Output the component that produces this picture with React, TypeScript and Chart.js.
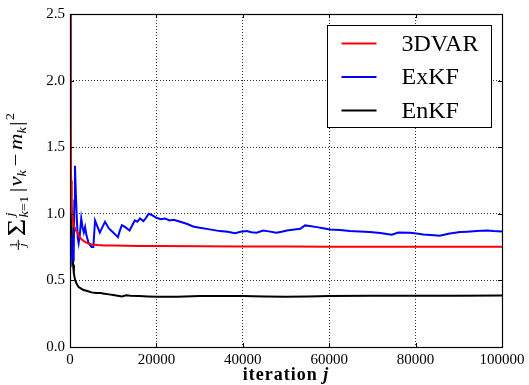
import React, { useEffect, useRef } from 'react';
import { Chart, registerables } from 'chart.js';

Chart.register(...registerables);

// ---------- data ----------
const seriesLabels = ['3DVAR', 'ExKF', 'EnKF'];
const seriesColors = ['#ff0000', '#0000ff', '#000000'];

const dvarX = [0, 100, 250, 400, 600, 900, 1300, 1700, 2100, 2600, 3200, 4000, 5000, 6500, 8000, 10000, 13000, 16000, 20000, 30000, 40000, 50000, 60000, 70000, 80000, 90000, 100000];
const dvarY = [2.6, 1.7, 1.25, 1.05, 0.96, 0.91, 0.88, 0.86, 0.83, 0.81, 0.795, 0.78, 0.77, 0.765, 0.762, 0.762, 0.76, 0.758, 0.758, 0.757, 0.755, 0.755, 0.753, 0.753, 0.752, 0.752, 0.752];

const exkfX = [0, 150, 350, 550, 750, 850, 1000, 1150, 1350, 1600, 1800, 2000, 2300, 2600, 2900, 3200, 3500, 3800, 4300, 5000, 5400, 5800, 6400, 6900, 7500, 8100, 9000, 10000, 11100, 11500, 12000, 12800, 13800, 14500, 15000, 15600, 16200, 17000, 17600, 18200, 19000, 20000, 21000, 22000, 23000, 24000, 25500, 27000, 28500, 30000, 32000, 34700, 36500, 38200, 39500, 40900, 42000, 43200, 44700, 46000, 47800, 49000, 50200, 52000, 53300, 54400, 55500, 57100, 58600, 60200, 62500, 64800, 67000, 69400, 71800, 73000, 74500, 76000, 78700, 80200, 81800, 83500, 85600, 87600, 90300, 92000, 94100, 96500, 98000, 100000];
const exkfY = [0.85, 0.6, 0.82, 0.78, 0.65, 0.66, 1.1, 1.36, 1.15, 0.95, 0.82, 0.78, 0.85, 0.965, 0.9, 0.86, 0.9, 0.84, 0.78, 0.75, 0.75, 0.95, 0.9, 0.86, 0.9, 0.94, 0.89, 0.86, 0.825, 0.87, 0.915, 0.9, 0.875, 0.92, 0.95, 0.94, 0.965, 0.945, 0.97, 1.0, 0.99, 0.97, 0.96, 0.965, 0.95, 0.955, 0.94, 0.925, 0.905, 0.895, 0.885, 0.87, 0.865, 0.855, 0.865, 0.87, 0.862, 0.858, 0.875, 0.868, 0.858, 0.865, 0.875, 0.882, 0.888, 0.913, 0.908, 0.9, 0.892, 0.883, 0.878, 0.87, 0.867, 0.863, 0.855, 0.85, 0.843, 0.86, 0.858, 0.852, 0.845, 0.84, 0.835, 0.85, 0.863, 0.866, 0.87, 0.875, 0.87, 0.868];

const enkfX = [0, 80, 200, 350, 500, 700, 900, 1200, 1600, 2000, 2500, 3000, 4000, 5000, 6000, 7000, 8000, 9000, 10000, 11000, 12000, 13000, 14000, 16000, 18000, 20000, 25000, 30000, 35000, 40000, 45000, 50000, 55000, 60000, 70000, 80000, 90000, 100000];
const enkfY = [2.6, 2.0, 1.3, 0.95, 0.75, 0.62, 0.55, 0.5, 0.47, 0.45, 0.44, 0.43, 0.42, 0.41, 0.405, 0.405, 0.4, 0.395, 0.39, 0.385, 0.38, 0.388, 0.385, 0.383, 0.38, 0.378, 0.378, 0.383, 0.382, 0.382, 0.38, 0.378, 0.38, 0.383, 0.384, 0.385, 0.385, 0.386];

const xTickValues = [0, 20000, 40000, 60000, 80000, 100000];
const xTickLabels = ['0', '20000', '40000', '60000', '80000', '100000'];
const yTickValues = [0, 0.5, 1.0, 1.5, 2.0, 2.5];
const yTickLabels = ['0.0', '0.5', '1.0', '1.5', '2.0', '2.5'];
const xTitleWord = 'iteration';
const xTitleVar = 'j';

const SERIF = '"Liberation Serif", "Times New Roman", serif';

const toPoints = (xs: number[], ys: number[]) => xs.map((x, i) => ({ x, y: ys[i] }));

function drawYLabel(ctx: CanvasRenderingContext2D, baseX: number, centerY: number, targetLen: number) {
  const main = `19px ${SERIF}`;
  const mainI = `italic 19px ${SERIF}`;
  const fr = `11px ${SERIF}`;
  const frI = `italic 11px ${SERIF}`;
  const sm = `12px ${SERIF}`;
  const smI = `italic 12px ${SERIF}`;
  const sig = `25px ${SERIF}`;
  const w = (t: string, f: string) => { ctx.font = f; return ctx.measureText(t).width; };
  const ops: any[] = [];
  let u = 0;
  const fw = Math.max(w('1', fr), w('j', frI)) + 3;
  ops.push({ t: '1', f: fr, u: u + (fw - w('1', fr)) / 2, v: -5.5 });
  ops.push({ bar: [u, u + fw, -3.7] });
  ops.push({ t: 'j', f: frI, u: u + (fw - w('j', frI)) / 2, v: 3.5 });
  u += fw + 3;
  ops.push({ t: '\u03A3', f: sig, u, v: 3 });
  u += w('\u03A3', sig) + 1;
  const limW = Math.max(w('k', smI) + w('=1', sm), w('j', smI));
  ops.push({ t: 'j', f: smI, u: u + 1, v: -8 });
  ops.push({ t: 'k', f: smI, u, v: 6 });
  ops.push({ t: '=1', f: sm, u: u + w('k', smI), v: 6 });
  u += limW + 3;
  ops.push({ t: '|', f: main, u, v: 1 }); u += w('|', main) + 1;
  ops.push({ t: 'v', f: mainI, u, v: 0 }); u += w('v', mainI);
  ops.push({ t: 'k', f: smI, u, v: 4 }); u += w('k', smI) + 3;
  ops.push({ t: '\u2212', f: main, u, v: 0 }); u += w('\u2212', main) + 3;
  ops.push({ t: 'm', f: mainI, u, v: 0 }); u += w('m', mainI);
  ops.push({ t: 'k', f: smI, u, v: 4 }); u += w('k', smI) + 1;
  ops.push({ t: '|', f: main, u, v: 1 }); u += w('|', main) + 1;
  ops.push({ t: '2', f: sm, u, v: -8 }); u += w('2', sm);
  const total = u;
  let s = targetLen / total;
  if (s < 0.85) s = 0.85;
  if (s > 1.2) s = 1.2;
  ctx.save();
  ctx.translate(baseX, centerY);
  ctx.rotate(-Math.PI / 2);
  ctx.scale(s, 1);
  ctx.translate(-total / 2, 0);
  ctx.fillStyle = '#000';
  ctx.strokeStyle = '#000';
  ctx.textAlign = 'left';
  ctx.textBaseline = 'alphabetic';
  for (const op of ops) {
    if (op.bar) {
      ctx.lineWidth = 1;
      ctx.beginPath();
      ctx.moveTo(op.bar[0], op.bar[2]);
      ctx.lineTo(op.bar[1], op.bar[2]);
      ctx.stroke();
    } else {
      ctx.font = op.f;
      ctx.fillText(op.t, op.u, op.v);
    }
  }
  ctx.restore();
}

const decorPlugin = {
  id: 'decor',
  afterDatasetsDraw(chart: any) {
    const { ctx, chartArea: a, scales } = chart;
    ctx.save();
    ctx.strokeStyle = '#000';
    ctx.lineWidth = 1;
    ctx.beginPath();
    for (const v of xTickValues) {
      const px = Math.round(scales.x.getPixelForValue(v)) + 0.5;
      ctx.moveTo(px, a.bottom); ctx.lineTo(px, a.bottom - 4);
      ctx.moveTo(px, a.top); ctx.lineTo(px, a.top + 4);
    }
    for (const v of yTickValues) {
      const py = Math.round(scales.y.getPixelForValue(v)) + 0.5;
      ctx.moveTo(a.left, py); ctx.lineTo(a.left + 4, py);
      ctx.moveTo(a.right, py); ctx.lineTo(a.right - 4, py);
    }
    ctx.stroke();
    ctx.lineWidth = 1.2;
    ctx.strokeRect(Math.round(a.left) + 0.5, Math.round(a.top) + 0.5, Math.round(a.right - a.left), Math.round(a.bottom - a.top));
    ctx.restore();
  },
  afterDraw(chart: any) {
    const { ctx, chartArea: a } = chart;
    ctx.save();
    const bx = 327.5, by = 25.5, bw = 164, bh = 102;
    ctx.fillStyle = '#fff';
    ctx.fillRect(bx, by, bw, bh);
    ctx.strokeStyle = '#000';
    ctx.lineWidth = 1;
    ctx.strokeRect(bx, by, bw, bh);
    const rows = [43.5, 77, 110.5];
    chart.data.datasets.forEach((ds: any, i: number) => {
      ctx.strokeStyle = ds.borderColor;
      ctx.lineWidth = 2;
      ctx.beginPath();
      ctx.moveTo(341.5, rows[i]);
      ctx.lineTo(376.5, rows[i]);
      ctx.stroke();
      ctx.fillStyle = '#000';
      ctx.font = `24px ${SERIF}`;
      ctx.textAlign = 'left';
      ctx.textBaseline = 'middle';
      ctx.fillText(ds.label, 401.5, rows[i] + 1);
    });
    const cx = (a.left + a.right) / 2;
    const fB = `bold 18px ${SERIF}`;
    const fBI = `bold italic 18px ${SERIF}`;
    (ctx as any).letterSpacing = '1px';
    ctx.font = fB;
    const w1 = ctx.measureText(xTitleWord + ' ').width;
    ctx.font = fBI;
    const w2 = ctx.measureText(xTitleVar).width;
    const start = cx - (w1 + w2) / 2;
    ctx.fillStyle = '#000';
    ctx.textAlign = 'left';
    ctx.textBaseline = 'alphabetic';
    ctx.font = fB;
    ctx.fillText(xTitleWord + ' ', start, 380);
    ctx.font = fBI;
    ctx.fillText(xTitleVar, start + w1, 380);
    (ctx as any).letterSpacing = '0px';
    drawYLabel(ctx, 22, (a.top + a.bottom) / 2 + 1, 138);
    ctx.restore();
  },
};

export default function App() {
  const ref = useRef<HTMLCanvasElement>(null);
  useEffect(() => {
    if (!ref.current) return;
    const tickFont = { family: SERIF, size: 15 };
    const chart = new Chart(ref.current, {
      type: 'line',
      data: {
        datasets: [
          { label: seriesLabels[0], data: toPoints(dvarX, dvarY), borderColor: seriesColors[0] },
          { label: seriesLabels[1], data: toPoints(exkfX, exkfY), borderColor: seriesColors[1] },
          { label: seriesLabels[2], data: toPoints(enkfX, enkfY), borderColor: seriesColors[2] },
        ].map((d) => ({ ...d, fill: false, borderWidth: 2, pointRadius: 0, tension: 0 })),
      },
      options: {
        responsive: false,
        animation: false,
        layout: { padding: { top: 14, right: 27, left: 0, bottom: 0 } },
        plugins: { legend: { display: false }, tooltip: { enabled: false } },
        scales: {
          x: {
            type: 'linear',
            min: 0,
            max: 100000,
            afterBuildTicks: (s: any) => { s.ticks = xTickValues.map((v) => ({ value: v })); },
            afterFit: (s: any) => { s.height = 38; },
            ticks: {
              callback: (_v: any, i: number) => xTickLabels[i],
              font: tickFont,
              color: '#000',
              padding: 4,
              maxRotation: 0,
              autoSkip: false,
            },
            grid: { color: 'rgba(0,0,0,0.8)', lineWidth: 1, drawTicks: false },
            border: { display: false, dash: [1, 2] },
          },
          y: {
            type: 'linear',
            min: 0,
            max: 2.5,
            afterBuildTicks: (s: any) => { s.ticks = yTickValues.map((v) => ({ value: v })); },
            afterFit: (s: any) => { s.width = 70; },
            ticks: {
              callback: (_v: any, i: number) => yTickLabels[i],
              font: tickFont,
              color: '#000',
              padding: 5,
              autoSkip: false,
            },
            grid: { color: 'rgba(0,0,0,0.8)', lineWidth: 1, drawTicks: false },
            border: { display: false, dash: [1, 2] },
          },
        },
      } as any,
      plugins: [decorPlugin],
    });
    return () => chart.destroy();
  }, []);
  return (
    <div style={{ position: 'absolute', left: 0, top: 0, width: 529, height: 385, background: '#fff' }}>
      <canvas ref={ref} width={529} height={385} style={{ display: 'block' }} />
    </div>
  );
}
